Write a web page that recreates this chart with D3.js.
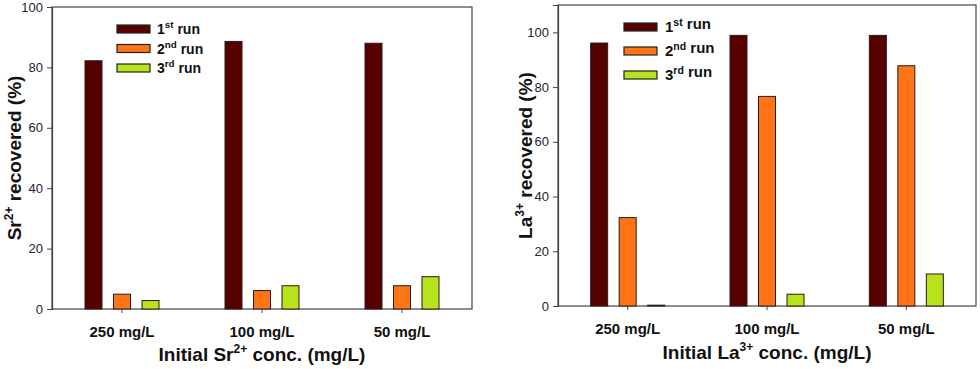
<!DOCTYPE html>
<html>
<head>
<meta charset="utf-8">
<script src="https://cdn.jsdelivr.net/npm/d3@7"></script>
<style>
  body { margin: 0; background: #fff; }
  svg { font-family: "Liberation Sans", Arial, sans-serif; }
</style>
</head>
<body>
<svg id="chart" width="980" height="369"></svg>
<script>
// categories and series
const categories = ["250 mg/L", "100 mg/L", "50 mg/L"];
const runs = ["1st", "2nd", "3rd"];
const runSup = ["st", "nd", "rd"];
const colors = ["#560000", "#ff7417", "#b7e31b"];

// Sr2+ recovered (%) per run, by category
const srRun1 = [82.2, 88.6, 88.0];
const srRun2 = [4.9, 6.1, 7.7];
const srRun3 = [2.8, 7.7, 10.7];

// La3+ recovered (%) per run, by category
const laRun1 = [96.1, 98.9, 98.9];
const laRun2 = [32.3, 76.6, 87.8];
const laRun3 = [0.3, 4.3, 11.7];

const srTicks = [0, 20, 40, 60, 80, 100];
const laTicks = [0, 20, 40, 60, 80, 100];

const svg = d3.select("#chart");

function panel(opt) {
  const g = svg.append("g");
  const x = d3.scaleBand().domain(categories).range([opt.left, opt.right]).padding(0);
  const y = d3.scaleLinear().domain([0, opt.ymax]).range([opt.bottom, opt.top]);
  const series = opt.series;

  // frame
  g.append("rect")
    .attr("x", opt.left).attr("y", opt.top)
    .attr("width", opt.right - opt.left).attr("height", opt.bottom - opt.top)
    .attr("fill", "none").attr("stroke", "#444").attr("stroke-width", 1.2);

  // bars
  const bw = 17, step = 28.5;
  series.forEach((vals, i) => {
    g.selectAll(".bar" + i)
      .data(categories)
      .enter().append("rect")
      .attr("x", d => x(d) + x.bandwidth() / 2 + (i - 1) * step - bw / 2)
      .attr("y", (d, j) => y(vals[j]))
      .attr("width", bw)
      .attr("height", (d, j) => y(0) - y(vals[j]))
      .attr("fill", colors[i])
      .attr("stroke", "#2a1a1a").attr("stroke-width", 1);
  });

  // y axis
  const ya = g.append("g")
    .attr("transform", "translate(" + opt.left + ",0)")
    .call(d3.axisLeft(y).tickValues(opt.ticks).tickSize(5).tickPadding(4));
  ya.select(".domain").attr("stroke", "#444").attr("stroke-width", 1.2);
  ya.selectAll(".tick line").attr("stroke", "#444");
  ya.selectAll("text").attr("font-size", 13).attr("fill", "#223");

  // x axis
  const xa = g.append("g")
    .attr("transform", "translate(0," + opt.bottom + ")")
    .call(d3.axisBottom(x).tickSize(4).tickPadding(13));
  xa.select(".domain").remove();
  xa.selectAll(".tick line").attr("stroke", "#444");
  xa.selectAll("text").attr("font-size", 15).attr("font-weight", "bold").attr("fill", "#111");

  // axis titles
  const xt = g.append("text")
    .attr("x", (opt.left + opt.right) / 2).attr("y", opt.xTitleY)
    .attr("text-anchor", "middle").attr("font-size", 19).attr("font-weight", "bold").attr("fill", "#111");
  xt.append("tspan").text("Initial " + opt.ion);
  xt.append("tspan").attr("dy", -8).attr("font-size", 12).text(opt.charge);
  xt.append("tspan").attr("dy", 8).text(" conc. (mg/L)");

  const yt = g.append("text")
    .attr("transform", "translate(" + opt.yTitleX + "," + ((opt.top + opt.bottom) / 2) + ") rotate(-90)")
    .attr("text-anchor", "middle").attr("font-size", 19).attr("font-weight", "bold").attr("fill", "#111");
  yt.append("tspan").text(opt.ion);
  yt.append("tspan").attr("dy", -8).attr("font-size", 12).text(opt.charge);
  yt.append("tspan").attr("dy", 8).text(" recovered (%)");

  // legend
  const lg = g.append("g").attr("transform", "translate(" + opt.legX + "," + opt.legY + ")");
  runs.forEach((r, i) => {
    const row = lg.append("g").attr("transform", "translate(0," + i * opt.legStep + ")");
    row.append("rect").attr("x", 0).attr("y", -4).attr("width", 33).attr("height", 8)
      .attr("fill", colors[i]).attr("stroke", "#222").attr("stroke-width", 1.2);
    const t = row.append("text").attr("x", opt.legTextX).attr("y", 5)
      .attr("font-size", opt.legFont).attr("font-weight", "bold").attr("fill", "#111");
    t.append("tspan").text(r[0]);
    t.append("tspan").attr("dy", -6).attr("font-size", opt.legFont * 0.7).text(runSup[i]);
    t.append("tspan").attr("dy", opt.runDy).text(" run");
  });
}

panel({
  left: 52, right: 472, top: 7, bottom: 309, ymax: 100, ticks: srTicks,
  series: [srRun1, srRun2, srRun3], ion: "Sr", charge: "2+",
  xTitleY: 361, yTitleX: 21,
  legX: 117, legY: 29, legStep: 19.5, legTextX: 40, legFont: 14, runDy: 6
});

panel({
  left: 558, right: 976, top: 5, bottom: 306, ymax: 110, ticks: laTicks,
  series: [laRun1, laRun2, laRun3], ion: "La", charge: "3+",
  xTitleY: 359, yTitleX: 532,
  legX: 624, legY: 27, legStep: 24, legTextX: 41, legFont: 15, runDy: 3
});
</script>
</body>
</html>
